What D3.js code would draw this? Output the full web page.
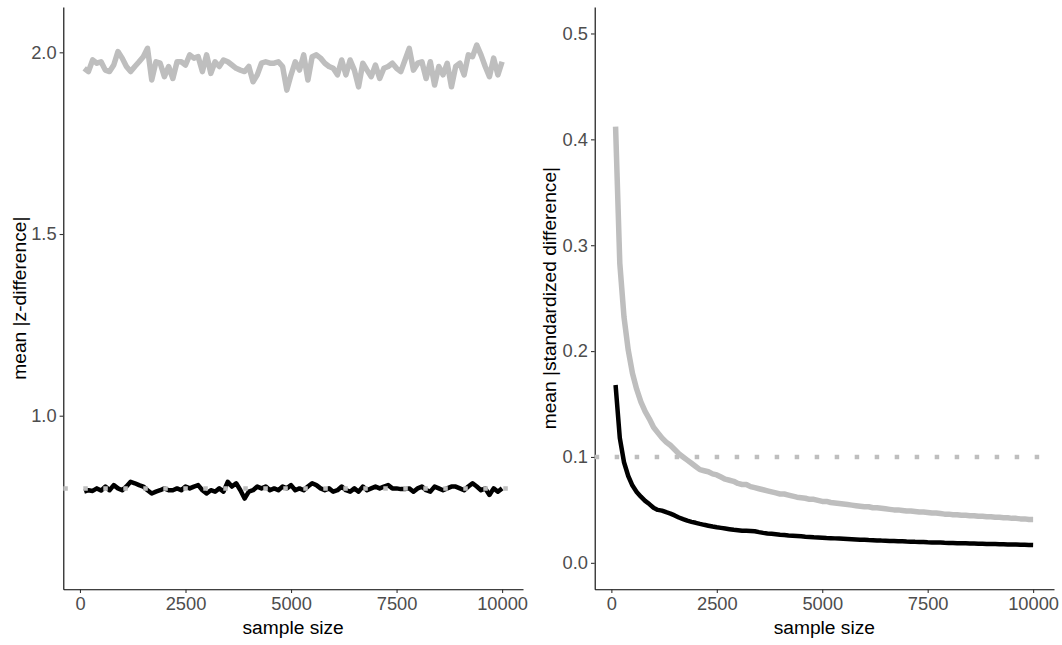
<!DOCTYPE html>
<html>
<head>
<meta charset="utf-8">
<script src="https://cdn.jsdelivr.net/npm/d3@7"></script>
<style>
  body { margin: 0; background: #fff; }
  svg text { font-family: "Liberation Sans", Arial, sans-serif; }
</style>
</head>
<body>
<div id="chart"></div>
<script>
// Sample sizes shared by both panels
const sampleSize = [
  100, 200, 300, 400, 500, 600, 700, 800, 900, 1000,
  1100, 1200, 1300, 1400, 1500, 1600, 1700, 1800, 1900, 2000,
  2100, 2200, 2300, 2400, 2500, 2600, 2700, 2800, 2900, 3000,
  3100, 3200, 3300, 3400, 3500, 3600, 3700, 3800, 3900, 4000,
  4100, 4200, 4300, 4400, 4500, 4600, 4700, 4800, 4900, 5000,
  5100, 5200, 5300, 5400, 5500, 5600, 5700, 5800, 5900, 6000,
  6100, 6200, 6300, 6400, 6500, 6600, 6700, 6800, 6900, 7000,
  7100, 7200, 7300, 7400, 7500, 7600, 7700, 7800, 7900, 8000,
  8100, 8200, 8300, 8400, 8500, 8600, 8700, 8800, 8900, 9000,
  9100, 9200, 9300, 9400, 9500, 9600, 9700, 9800, 9900, 10000
];

// Left panel: mean |z-difference|
const zGrey = [
  1.956, 1.947, 1.979, 1.970, 1.974, 1.951, 1.947, 1.965, 2.002, 1.984,
  1.961, 1.947, 1.961, 1.974, 1.988, 2.011, 1.924, 1.974, 1.970, 1.933,
  1.961, 1.928, 1.974, 1.974, 1.965, 1.993, 1.984, 1.988, 1.947, 1.993,
  1.942, 1.974, 1.961, 1.979, 1.974, 1.965, 1.956, 1.951, 1.947, 1.961,
  1.919, 1.938, 1.970, 1.974, 1.970, 1.970, 1.974, 1.961, 1.896, 1.938,
  1.974, 1.951, 1.993, 1.924, 1.988, 1.993, 1.984, 1.970, 1.961, 1.956,
  1.938, 1.979, 1.938, 1.979, 1.951, 1.905, 1.970, 1.951, 1.933, 1.965,
  1.928, 1.956, 1.961, 1.970, 1.956, 1.947, 1.979, 2.011, 1.951, 1.970,
  1.974, 1.928, 1.974, 1.910, 1.961, 1.938, 1.970, 1.905, 1.961, 1.970,
  1.938, 1.993, 1.988, 2.020, 1.993, 1.961, 1.933, 1.984, 1.938, 1.974
];
const zBlack = [
  0.791, 0.795, 0.793, 0.800, 0.794, 0.805, 0.795, 0.809, 0.800, 0.795,
  0.805, 0.818, 0.814, 0.809, 0.805, 0.795, 0.786, 0.791, 0.795, 0.800,
  0.795, 0.795, 0.800, 0.795, 0.805, 0.800, 0.805, 0.809, 0.795, 0.786,
  0.795, 0.791, 0.800, 0.791, 0.818, 0.805, 0.814, 0.795, 0.772, 0.791,
  0.795, 0.805, 0.800, 0.805, 0.795, 0.800, 0.795, 0.805, 0.800, 0.809,
  0.795, 0.800, 0.795, 0.805, 0.814, 0.809, 0.800, 0.795, 0.800, 0.791,
  0.795, 0.805, 0.795, 0.791, 0.800, 0.791, 0.805, 0.795, 0.800, 0.805,
  0.800, 0.805, 0.809, 0.800, 0.800, 0.798, 0.798, 0.800, 0.791, 0.800,
  0.805, 0.795, 0.791, 0.805, 0.800, 0.795, 0.800, 0.805, 0.805, 0.800,
  0.795, 0.805, 0.814, 0.805, 0.795, 0.800, 0.782, 0.800, 0.791, 0.800
];
const zRef = 0.8;

// Right panel: mean |standardized difference|
const sdGrey = [
  0.412, 0.283, 0.232, 0.201, 0.179, 0.164, 0.152, 0.143, 0.136, 0.128,
  0.123, 0.118, 0.114, 0.111, 0.107, 0.103, 0.100, 0.097, 0.094, 0.091,
  0.088, 0.087, 0.086, 0.084, 0.083, 0.081, 0.079, 0.078, 0.077, 0.075,
  0.074, 0.074, 0.072, 0.071, 0.070, 0.069, 0.068, 0.067, 0.066, 0.065,
  0.065, 0.064, 0.063, 0.062, 0.0615, 0.061, 0.060, 0.060, 0.059, 0.058,
  0.058, 0.057, 0.0565, 0.056, 0.0555, 0.055, 0.0545, 0.054, 0.0535, 0.053,
  0.053, 0.052, 0.052, 0.0515, 0.051, 0.0505, 0.050, 0.050, 0.0495, 0.049,
  0.049, 0.0485, 0.048, 0.048, 0.0475, 0.047, 0.047, 0.0465, 0.046, 0.046,
  0.0455, 0.0455, 0.045, 0.045, 0.0445, 0.0445, 0.044, 0.044, 0.0435, 0.0435,
  0.043, 0.043, 0.0425, 0.0425, 0.042, 0.042, 0.0415, 0.0415, 0.041, 0.041
];
const sdBlack = [
  0.168, 0.118, 0.095, 0.082, 0.073, 0.067, 0.0625, 0.0585, 0.0555, 0.052,
  0.050, 0.0493, 0.0478, 0.0465, 0.0448, 0.0428, 0.0412, 0.0398, 0.0387, 0.0378,
  0.0368, 0.0359, 0.0351, 0.0343, 0.0336, 0.0330, 0.0324, 0.0318, 0.0312, 0.0308,
  0.0304, 0.0302, 0.0300, 0.0298, 0.0290, 0.0283, 0.0278, 0.0274, 0.0270, 0.0266,
  0.0263, 0.0259, 0.0256, 0.0253, 0.0250, 0.0247, 0.0245, 0.0242, 0.0240, 0.0238,
  0.0235, 0.0233, 0.0231, 0.0229, 0.0227, 0.0225, 0.0223, 0.0221, 0.0219, 0.0217,
  0.0215, 0.0214, 0.0212, 0.0210, 0.0209, 0.0207, 0.0206, 0.0204, 0.0203, 0.0201,
  0.0200, 0.0198, 0.0197, 0.0196, 0.0194, 0.0193, 0.0192, 0.0191, 0.0189, 0.0188,
  0.0187, 0.0186, 0.0185, 0.0184, 0.0183, 0.0182, 0.0181, 0.0180, 0.0179, 0.0178,
  0.0177, 0.0176, 0.0175, 0.0174, 0.0173, 0.0172, 0.0171, 0.0170, 0.0169, 0.0168
];
const sdRef = 0.1;

const xTicks = [0, 2500, 5000, 7500, 10000];
const zTicks = [1.0, 1.5, 2.0];
const sdTicks = [0.0, 0.1, 0.2, 0.3, 0.4, 0.5];

const GREY = "#bebebe";
const width = 1062;
const height = 645;

const svg = d3.select("#chart")
  .append("svg")
  .attr("width", width)
  .attr("height", height);

// Draw one panel (axes, two lines, dotted reference line)
function drawPanel(opts) {
  const x = d3.scaleLinear()
    .domain([-395, 10495])
    .range([opts.left, opts.right]);

  const y = d3.scaleLinear()
    .domain(opts.yDomain)
    .range([opts.bottom, opts.top]);

  const g = svg.append("g");

  // x axis
  const xAxis = g.append("g")
    .attr("transform", `translate(0, ${opts.bottom})`)
    .call(d3.axisBottom(x).tickValues(xTicks).tickFormat(d3.format("d"))
      .tickSize(3.7).tickSizeOuter(0).tickPadding(3));

  // y axis
  const yAxis = g.append("g")
    .attr("transform", `translate(${opts.left}, 0)`)
    .call(d3.axisLeft(y).tickValues(opts.yTicks).tickFormat(d3.format(".1f"))
      .tickSize(3.7).tickSizeOuter(0).tickPadding(3));

  [xAxis, yAxis].forEach(a => {
    a.select(".domain").attr("stroke", "#000").attr("stroke-width", 1.1);
    a.selectAll(".tick line").attr("stroke", "#333").attr("stroke-width", 1.1);
    a.selectAll(".tick text")
      .attr("fill", "#4d4d4d")
      .style("font-size", "18.3px");
  });
  xAxis.selectAll(".tick text").attr("dy", "0.75em");

  const line = d3.line()
    .x((d, i) => x(sampleSize[i]))
    .y(d => y(d));

  // grey series
  g.append("path")
    .datum(opts.grey)
    .attr("fill", "none")
    .attr("stroke", GREY)
    .attr("stroke-width", 5.5)
    .attr("stroke-linejoin", "round")
    .attr("d", line);

  // black series
  g.append("path")
    .datum(opts.black)
    .attr("fill", "none")
    .attr("stroke", "#000")
    .attr("stroke-width", 4.5)
    .attr("stroke-linejoin", "round")
    .attr("d", line);

  // dotted reference line
  g.append("line")
    .attr("x1", opts.left)
    .attr("x2", opts.right)
    .attr("y1", y(opts.ref))
    .attr("y2", y(opts.ref))
    .attr("stroke", GREY)
    .attr("stroke-width", 4.5)
    .attr("stroke-dasharray", "4.5,15.5");

  // axis titles
  g.append("text")
    .attr("x", (opts.left + opts.right) / 2)
    .attr("y", 634)
    .attr("text-anchor", "middle")
    .style("font-size", "19.2px")
    .attr("fill", "#000")
    .text("sample size");

  g.append("text")
    .attr("transform", `translate(${opts.titleX}, ${(opts.top + opts.bottom) / 2}) rotate(-90)`)
    .attr("text-anchor", "middle")
    .style("font-size", "19.2px")
    .attr("fill", "#000")
    .text(opts.yTitle);
}

drawPanel({
  left: 63.3, right: 523, top: 7, bottom: 589.3,
  yDomain: [0.5223, 2.1247], yTicks: zTicks,
  grey: zGrey, black: zBlack, ref: zRef,
  titleX: 26, yTitle: "mean |z-difference|"
});

drawPanel({
  left: 594.7, right: 1054, top: 7, bottom: 589.3,
  yDomain: [-0.025, 0.525], yTicks: sdTicks,
  grey: sdGrey, black: sdBlack, ref: sdRef,
  titleX: 556, yTitle: "mean |standardized difference|"
});
</script>
</body>
</html>
